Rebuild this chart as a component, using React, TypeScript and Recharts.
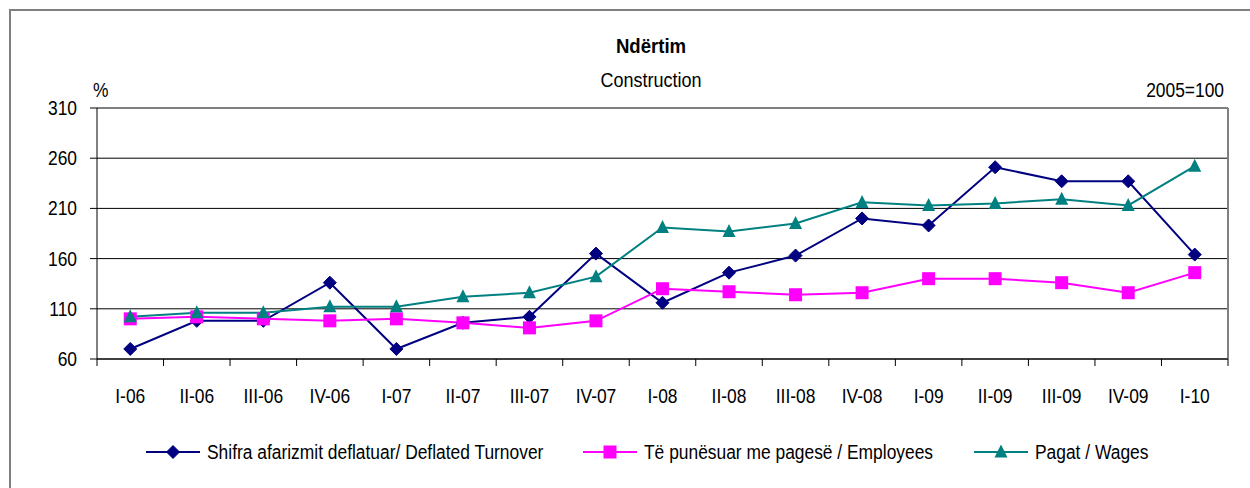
import React from 'react';
import { LineChart, Line, XAxis, YAxis, CartesianGrid, ReferenceLine } from 'recharts';

const categories = ['I-06', 'II-06', 'III-06', 'IV-06', 'I-07', 'II-07', 'III-07', 'IV-07', 'I-08', 'II-08', 'III-08', 'IV-08', 'I-09', 'II-09', 'III-09', 'IV-09', 'I-10'];
const turnover = [70, 98, 98, 136, 70, 96, 102, 165, 116, 146, 163, 200, 193, 251, 237, 237, 164];
const employees = [100, 102, 100, 98, 100, 96, 91, 98, 130, 127, 124, 126, 140, 140, 136, 126, 146];
const wages = [102, 106, 106, 112, 112, 122, 126, 142, 191, 187, 195, 216, 213, 215, 219, 213, 252];
const yTicks = [60, 110, 160, 210, 260, 310];
const seriesNames = ['Shifra afarizmit deflatuar/ Deflated Turnover', 'Të punësuar me pagesë / Employees', 'Pagat / Wages'];
const colors = ['#000080', '#FF00FF', '#008080'];

const data = categories.map((c, i) => ({ idx: i, cat: c, turnover: turnover[i], employees: employees[i], wages: wages[i] }));
const boundaryTicks = [...categories.map((_, i) => i - 0.5), categories.length - 0.5];

const FONT = '"Liberation Sans", Arial, sans-serif';
const SX = 0.87;

const SText = ({ x, y, anchor = 'start', size = 20, bold = false, sx = SX, children }: any) => (
  <text
    transform={`translate(${x},${y}) scale(${sx},1)`}
    x={0}
    y={0}
    textAnchor={anchor}
    dominantBaseline="central"
    fontSize={size}
    fontWeight={bold ? 'bold' : 'normal'}
    fontFamily={FONT}
    fill="#000"
  >
    {children}
  </text>
);

const Diamond = (p: any) => {
  const { cx, cy, fill } = p;
  if (cx == null || cy == null) return <g />;
  const r = 6.5;
  return <polygon points={`${cx},${cy - r} ${cx + r},${cy} ${cx},${cy + r} ${cx - r},${cy}`} fill={fill} stroke={fill} />;
};
const Square = (p: any) => {
  const { cx, cy, fill } = p;
  if (cx == null || cy == null) return <g />;
  const r = 6.5;
  return <rect x={cx - r} y={cy - r} width={2 * r} height={2 * r} fill={fill} />;
};
const Triangle = (p: any) => {
  const { cx, cy, fill } = p;
  if (cx == null || cy == null) return <g />;
  const r = 6.5;
  return <polygon points={`${cx},${cy - r - 1} ${cx + r},${cy + r - 1} ${cx - r},${cy + r - 1}`} fill={fill} />;
};

const XTick = (props: any) => {
  const { x, y, payload, width } = props;
  const idx = Math.round(payload.value + 0.5);
  if (idx < 0 || idx >= categories.length) return <g />;
  const band = (width || 1131) / categories.length;
  return <SText x={x + band / 2} y={y + 28} anchor="middle">{categories[idx]}</SText>;
};

const YTick = (props: any) => {
  const { x, y, payload } = props;
  return <SText x={x} y={y} anchor="end">{payload.value}</SText>;
};

const markers = [Diamond, Square, Triangle];

export default function App() {
  return (
    <div style={{ position: 'absolute', left: 0, top: 0, width: 1250, height: 488, overflow: 'hidden', background: '#fff' }}>
      <div style={{ position: 'absolute', left: 9, top: 9, width: 1270, height: 520, border: '2px solid #7f7f7f' }} />
      <div style={{ position: 'absolute', left: 0, top: 0 }}>
        <LineChart width={1250} height={488} data={data} margin={{ top: 108, right: 22, left: 0, bottom: 79 }}>
          <CartesianGrid vertical={false} stroke="#000" strokeWidth={1} />
          <XAxis
            dataKey="idx"
            type="number"
            domain={[-0.5, categories.length - 0.5]}
            ticks={boundaryTicks}
            interval={0}
            height={50}
            tickSize={7}
            tick={<XTick />}
            axisLine={{ stroke: '#000' }}
            tickLine={{ stroke: '#000' }}
          />
          <YAxis
            domain={[60, 310]}
            ticks={yTicks}
            interval={0}
            width={97}
            tickSize={7}
            tickMargin={13}
            axisLine={{ stroke: '#000' }}
            tickLine={{ stroke: '#000' }}
            tick={<YTick />}
          />
          <ReferenceLine x={categories.length - 0.5} stroke="#808080" strokeWidth={2} />
          <Line dataKey="turnover" stroke={colors[0]} fill={colors[0]} strokeWidth={2} dot={<Diamond fill={colors[0]} />} isAnimationActive={false} />
          <Line dataKey="employees" stroke={colors[1]} fill={colors[1]} strokeWidth={2} dot={<Square fill={colors[1]} />} isAnimationActive={false} />
          <Line dataKey="wages" stroke={colors[2]} fill={colors[2]} strokeWidth={2} dot={<Triangle fill={colors[2]} />} isAnimationActive={false} />
        </LineChart>
      </div>
      <svg width={1250} height={488} style={{ position: 'absolute', left: 0, top: 0, pointerEvents: 'none' }}>
        <SText x={651} y={46} anchor="middle" size={20} bold sx={0.93}>Ndërtim</SText>
        <SText x={651} y={80} anchor="middle" size={20} sx={0.9}>Construction</SText>
        <SText x={93} y={90}>%</SText>
        <SText x={1224} y={90} anchor="end">2005=100</SText>
        {[146, 583, 974].map((lx, i) => {
          const M = markers[i];
          return (
            <g key={i}>
              <line x1={lx} x2={lx + 54} y1={452} y2={452} stroke={colors[i]} strokeWidth={2} />
              <M cx={lx + 27} cy={452} fill={colors[i]} />
              <SText x={lx + 61} y={452}>{seriesNames[i]}</SText>
            </g>
          );
        })}
      </svg>
    </div>
  );
}
